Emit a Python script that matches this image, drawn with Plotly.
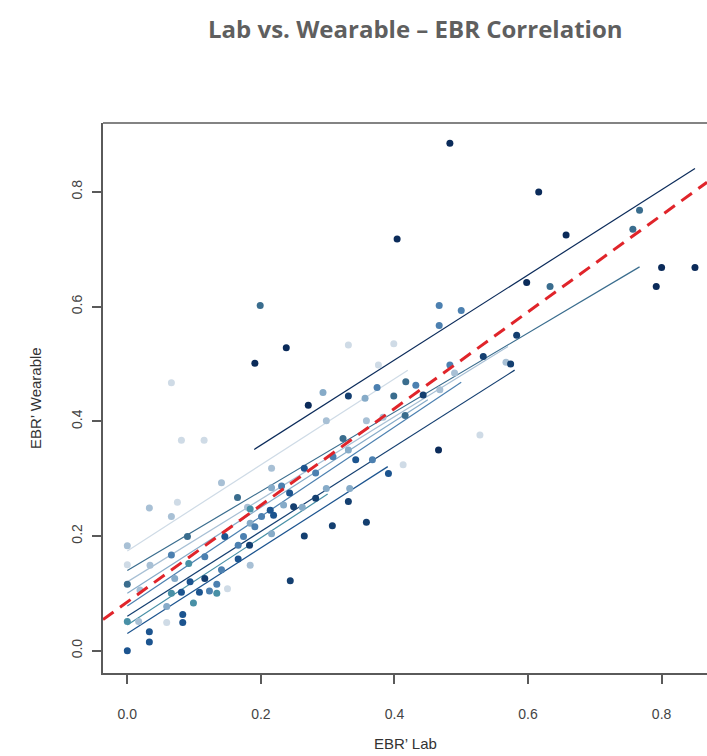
import plotly.graph_objects as go

# ---------------- data ----------------
TITLE = "Lab vs. Wearable \u2013 EBR Correlation"
X_LABEL = "EBR\u2019 Lab"
Y_LABEL = "EBR\u2019 Wearable"
X_TICKS = [0.0, 0.2, 0.4, 0.6, 0.8]
Y_TICKS = [0.0, 0.2, 0.4, 0.6, 0.8]

S1_x = [0.191, 0.238, 0.271, 0.404, 0.466, 0.483, 0.598, 0.616, 0.657, 0.792, 0.800, 0.850]
S1_y = [0.501, 0.528, 0.428, 0.718, 0.350, 0.885, 0.642, 0.800, 0.725, 0.635, 0.668, 0.668]

S2_x = [0.000, 0.090, 0.165, 0.199, 0.323, 0.399, 0.416, 0.417, 0.633, 0.757, 0.767]
S2_y = [0.116, 0.199, 0.267, 0.602, 0.370, 0.444, 0.410, 0.469, 0.635, 0.735, 0.768]

S3_x = [0.000, 0.059, 0.066, 0.075, 0.081, 0.115, 0.150, 0.331, 0.376, 0.399, 0.413, 0.528]
S3_y = [0.150, 0.049, 0.467, 0.259, 0.367, 0.367, 0.108, 0.533, 0.498, 0.535, 0.324, 0.376]

S4_x = [0.000, 0.017, 0.019, 0.033, 0.034, 0.066, 0.141, 0.180, 0.184, 0.216, 0.298, 0.358, 0.383, 0.468, 0.490, 0.567]
S4_y = [0.183, 0.051, 0.106, 0.249, 0.149, 0.234, 0.293, 0.250, 0.149, 0.318, 0.401, 0.401, 0.407, 0.455, 0.484, 0.503]

S5_x = [0.059, 0.071, 0.184, 0.216, 0.216, 0.234, 0.262, 0.293, 0.298, 0.331, 0.333, 0.356]
S5_y = [0.077, 0.126, 0.222, 0.204, 0.284, 0.254, 0.250, 0.450, 0.283, 0.350, 0.283, 0.440]

S6_x = [0.066, 0.116, 0.123, 0.134, 0.141, 0.166, 0.174, 0.191, 0.201, 0.231, 0.282, 0.308, 0.367, 0.374, 0.432, 0.467, 0.467, 0.483, 0.500]
S6_y = [0.167, 0.164, 0.104, 0.116, 0.141, 0.184, 0.199, 0.216, 0.234, 0.287, 0.310, 0.338, 0.333, 0.459, 0.463, 0.567, 0.602, 0.498, 0.593]

S7_x = [0.000, 0.066, 0.092, 0.099, 0.134, 0.184]
S7_y = [0.051, 0.100, 0.152, 0.083, 0.100, 0.247]

S8_x = [0.000, 0.033, 0.033, 0.081, 0.083, 0.083, 0.094, 0.108, 0.146, 0.166, 0.214, 0.219, 0.243, 0.265, 0.342, 0.391]
S8_y = [0.000, 0.033, 0.015, 0.102, 0.063, 0.049, 0.120, 0.102, 0.199, 0.160, 0.245, 0.236, 0.275, 0.318, 0.333, 0.309]

S9_x = [0.116, 0.183, 0.244, 0.249, 0.265, 0.282, 0.307, 0.331, 0.331, 0.358, 0.443, 0.533, 0.574, 0.583]
S9_y = [0.126, 0.184, 0.122, 0.251, 0.200, 0.266, 0.218, 0.260, 0.444, 0.224, 0.446, 0.513, 0.500, 0.550]

SUBJ_X = [S1_x, S2_x, S3_x, S4_x, S5_x, S6_x, S7_x, S8_x, S9_x]
SUBJ_Y = [S1_y, S2_y, S3_y, S4_y, S5_y, S6_y, S7_y, S8_y, S9_y]

# per-subject fitted lines: intercept, slope, x-from, x-to
LINE_INT = [0.210, 0.140, 0.174, 0.120, 0.100, 0.078, 0.045, 0.030, 0.060]
LINE_SLOPE = [0.742, 0.690, 0.750, 0.720, 0.750, 0.780, 0.760, 0.746, 0.740]
LINE_X0 = [0.19, 0.00, 0.00, 0.00, 0.00, 0.00, 0.00, 0.00, 0.00]
LINE_X1 = [0.85, 0.767, 0.42, 0.57, 0.45, 0.50, 0.30, 0.39, 0.58]

# overall fixed-effect fit
FIX_INT = 0.085
FIX_SLOPE = 0.843

# ---------------- styles ----------------
COLORS = ["#0b2b5a", "#3a6d8e", "#cfdbe6", "#a8c0d5", "#86abc8",
          "#4c80b0", "#4890a6", "#1c548f", "#143f70"]
X_RANGE = [-0.0364, 0.868]
Y_RANGE = [-0.0389, 0.9201]

fig = go.Figure()

for i in range(len(SUBJ_X)):
    x0, x1 = LINE_X0[i], LINE_X1[i]
    fig.add_trace(go.Scatter(
        x=[x0, x1], y=[LINE_INT[i] + LINE_SLOPE[i] * x0, LINE_INT[i] + LINE_SLOPE[i] * x1],
        mode="lines", line=dict(color=COLORS[i], width=1.2), showlegend=False, hoverinfo="skip"))

for i in range(len(SUBJ_X)):
    fig.add_trace(go.Scatter(
        x=SUBJ_X[i], y=SUBJ_Y[i], mode="markers",
        marker=dict(color=COLORS[i], size=7, line=dict(width=0)),
        showlegend=False))

fig.add_trace(go.Scatter(
    x=X_RANGE, y=[FIX_INT + FIX_SLOPE * X_RANGE[0], FIX_INT + FIX_SLOPE * X_RANGE[1]],
    mode="lines", line=dict(color="#e0242a", width=3, dash="13px,8px"),
    showlegend=False, hoverinfo="skip"))

axis_common = dict(
    showgrid=False, zeroline=False, showline=True, linecolor="#5a5a5a", linewidth=1.5,
    ticks="outside", ticklen=9, tickwidth=1.5, tickcolor="#5a5a5a",
    tickfont=dict(family="Liberation Sans", size=14, color="#444444"),
)

fig.update_layout(
    width=707, height=756,
    margin=dict(l=103, r=0, t=123, b=83),
    paper_bgcolor="white", plot_bgcolor="white",
    xaxis=dict(range=X_RANGE, tickvals=X_TICKS, ticktext=[f"{v:.1f}" for v in X_TICKS],
               ticklabelstandoff=18, **axis_common),
    yaxis=dict(range=Y_RANGE, tickvals=Y_TICKS, ticktext=[f"{v:.1f}" for v in Y_TICKS],
               tickangle=-90, ticklabelstandoff=5, **axis_common),
    shapes=[dict(type="line", xref="paper", yref="paper", x0=0, x1=1, y0=1, y1=1,
                 line=dict(color="#5a5a5a", width=1.5))],
    annotations=[
        dict(text=TITLE, xref="paper", yref="paper", x=0.5, y=1, yshift=95, xshift=10,
             showarrow=False, xanchor="center", yanchor="middle",
             font=dict(family="Open Sans", size=24, color="#5f5f5f", weight=700)),
        dict(text=X_LABEL, xref="paper", yref="paper", x=0.5, y=0, yshift=-70,
             showarrow=False, xanchor="center", yanchor="middle",
             font=dict(family="Liberation Sans", size=15, color="#333333")),
        dict(text=Y_LABEL, xref="paper", yref="paper", x=0, y=0.5, xshift=-68,
             textangle=-90, showarrow=False, xanchor="center", yanchor="middle",
             font=dict(family="Liberation Sans", size=15, color="#333333")),
    ],
)

fig.write_html("out.html")
